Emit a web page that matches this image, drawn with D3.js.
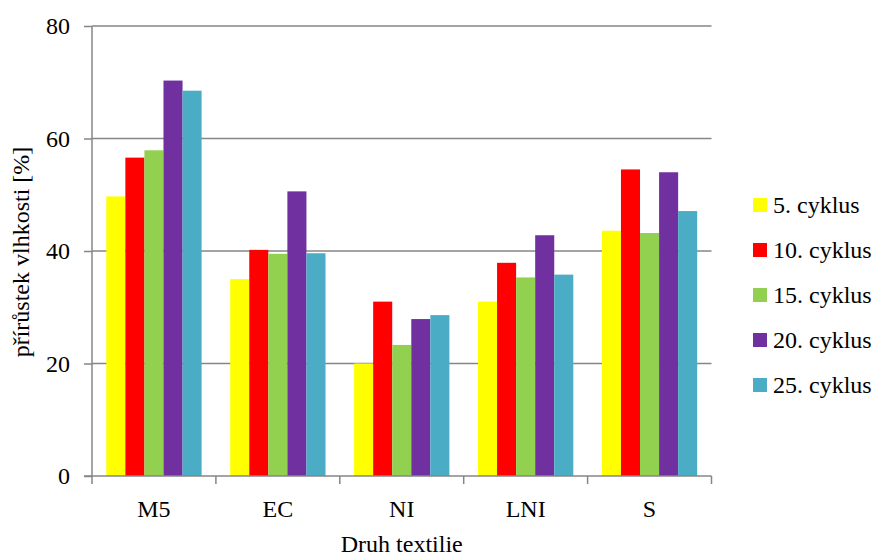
<!DOCTYPE html>
<html>
<head>
<meta charset="utf-8">
<script src="https://cdn.jsdelivr.net/npm/d3@7"></script>
<style>
  body { margin: 0; background: #fff; }
  svg text { font-family: "Times New Roman", "Liberation Serif", "DejaVu Serif", "Noto Serif", serif; }
</style>
</head>
<body>
<div id="chart"></div>
<script>
const categories = ['M5', 'EC', 'NI', 'LNI', 'S']
const series = ['5. cyklus', '10. cyklus', '15. cyklus', '20. cyklus', '25. cyklus']
const colors = ['#FFFF00', '#FF0000', '#92D050', '#7030A0', '#4BACC6']
// values per series, in category order
const cyklus5 = [49.7, 35.0, 20.0, 31.0, 43.6]
const cyklus10 = [56.6, 40.2, 31.0, 37.9, 54.5]
const cyklus15 = [57.9, 39.5, 23.3, 35.3, 43.2]
const cyklus20 = [70.3, 50.6, 27.9, 42.8, 54.0]
const cyklus25 = [68.5, 39.6, 28.6, 35.8, 47.1]
const yTicks = [0, 20, 40, 60, 80]

const values = [cyklus5, cyklus10, cyklus15, cyklus20, cyklus25]

const W = 883, H = 556
const plot = { left: 92, right: 711.5, top: 26, bottom: 476 }
const gridColor = '#868686'
const FS = '24px'

const svg = d3.select('#chart').append('svg')
    .attr('width', W)
    .attr('height', H)

const x0 = d3.scaleBand().domain(categories).range([plot.left, plot.right])
const x1 = d3.scaleBand().domain(series).range([0, x0.bandwidth()]).paddingInner(0).paddingOuter(0.75)
const y = d3.scaleLinear().domain([0, 80]).range([plot.bottom, plot.top])

// gridlines
svg.append('g').selectAll('line').data(yTicks.filter(d => d > 0))
    .enter().append('line')
    .attr('x1', plot.left).attr('x2', plot.right)
    .attr('y1', d => y(d)).attr('y2', d => y(d))
    .attr('stroke', gridColor).attr('stroke-width', 1.5)

// bars
const rows = []
categories.forEach((c, ci) => series.forEach((s, si) => rows.push({ c, s, si, v: values[si][ci] })))
svg.append('g').selectAll('rect').data(rows)
    .enter().append('rect')
    .attr('x', d => x0(d.c) + x1(d.s))
    .attr('y', d => y(d.v))
    .attr('width', x1.bandwidth())
    .attr('height', d => y(0) - y(d.v))
    .attr('fill', d => colors[d.si])

// y axis
const yAxis = svg.append('g')
    .attr('transform', `translate(${plot.left},0)`)
    .call(d3.axisLeft(y).tickValues(yTicks).tickSize(8).tickPadding(14))
yAxis.select('.domain').attr('stroke', gridColor).attr('stroke-width', 1.5)
    .attr('d', `M0,${plot.top}V${plot.bottom}`)
yAxis.selectAll('.tick line').attr('stroke', gridColor).attr('stroke-width', 1.5)
yAxis.selectAll('.tick text').attr('fill', '#000').style('font-size', FS)

// x axis with ticks at category boundaries
const xg = svg.append('g').attr('transform', `translate(0,${plot.bottom})`)
xg.append('line').attr('x1', plot.left - 8).attr('x2', plot.right)
    .attr('stroke', gridColor).attr('stroke-width', 1.5)
const bounds = categories.map(c => x0(c)).concat([plot.right])
xg.selectAll('line.tk').data(bounds).enter().append('line')
    .attr('class', 'tk')
    .attr('x1', d => d).attr('x2', d => d)
    .attr('y1', 0).attr('y2', 8)
    .attr('stroke', gridColor).attr('stroke-width', 1.5)
xg.selectAll('text').data(categories).enter().append('text')
    .attr('x', d => x0(d) + x0.bandwidth() / 2)
    .attr('y', 41)
    .attr('text-anchor', 'middle')
    .style('font-size', FS)
    .text(d => d)

// axis titles
svg.append('text')
    .attr('x', (plot.left + plot.right) / 2)
    .attr('y', 552)
    .attr('text-anchor', 'middle')
    .style('font-size', FS)
    .text('Druh textilie')

svg.append('text')
    .attr('transform', `translate(29,252) rotate(-90)`)
    .attr('text-anchor', 'middle')
    .style('font-size', FS)
    .text('přírůstek vlhkosti [%]')

// legend
const lg = svg.append('g')
    .selectAll('g').data(series).enter().append('g')
    .attr('transform', (d, i) => `translate(753,${205 + i * 45})`)
lg.append('rect').attr('x', 0).attr('y', -7).attr('width', 14).attr('height', 14)
    .attr('fill', (d, i) => colors[i])
lg.append('text').attr('x', 20).attr('y', 8)
    .style('font-size', FS)
    .text(d => d)
</script>
</body>
</html>
